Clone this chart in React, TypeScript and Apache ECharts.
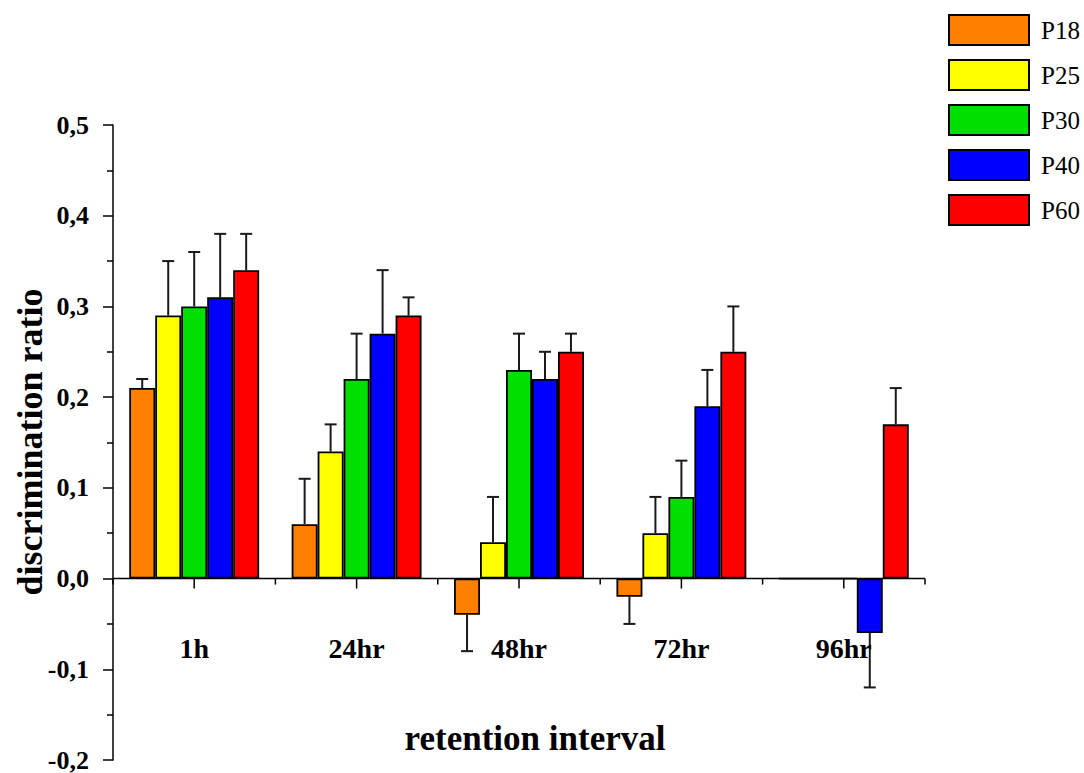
import React, { useEffect, useRef } from "react";
import * as echarts from "echarts";

const categories = ["1h", "24hr", "48hr", "72hr", "96hr"];
const seriesNames = ["P18", "P25", "P30", "P40", "P60"];
const colors = ["#ff8000", "#ffff00", "#00e000", "#0000ff", "#ff0000"];

const p18 = [0.21, 0.06, -0.04, -0.02, 0];
const p25 = [0.29, 0.14, 0.04, 0.05, 0];
const p30 = [0.3, 0.22, 0.23, 0.09, 0];
const p40 = [0.31, 0.27, 0.22, 0.19, -0.06];
const p60 = [0.34, 0.29, 0.25, 0.25, 0.17];

const e18 = [0.01, 0.05, 0.04, 0.03, 0];
const e25 = [0.06, 0.03, 0.05, 0.04, 0];
const e30 = [0.06, 0.05, 0.04, 0.04, 0];
const e40 = [0.07, 0.07, 0.03, 0.04, 0.06];
const e60 = [0.04, 0.02, 0.02, 0.05, 0.04];

const yTicks = { min: -0.2, max: 0.5, interval: 0.1 };

const values = [p18, p25, p30, p40, p60];
const errors = [e18, e25, e30, e40, e60];

const FONT = "'Liberation Serif', 'Times New Roman', serif";

export default function App() {
  const ref = useRef<HTMLDivElement>(null);
  useEffect(() => {
    document.body.style.margin = "0";
    if (!ref.current) return;
    const chart = echarts.init(ref.current, null, { renderer: "svg" });
    const errData: number[][] = [];
    values.forEach((vals, s) => {
      vals.forEach((v, c) => {
        errData.push([c, s, v, errors[s][c]]);
      });
    });
    const barSeries = seriesNames.map((name, i) => ({
      name,
      type: "bar",
      data: values[i],
      barGap: "0%",
      barCategoryGap: "20%",
      itemStyle: { color: colors[i], borderColor: "#000", borderWidth: 1.8 },
      z: 3,
    }));
    const axisStyle = { stroke: "#000", lineWidth: 1.5 };
    chart.setOption({
      animation: false,
      textStyle: { fontFamily: FONT },
      grid: { left: 113, right: 159, top: 125, bottom: 13, containLabel: false, outerBoundsMode: "none" },
      legend: {
        data: seriesNames,
        orient: "vertical",
        left: 948,
        top: 14,
        padding: 0,
        itemWidth: 80,
        itemHeight: 30,
        itemGap: 13,
        icon: "rect",
        textStyle: { fontFamily: FONT, fontSize: 25, color: "#000", padding: [0, 0, 0, 7] },
        selectedMode: false,
      },
      xAxis: {
        type: "category",
        data: categories,
        axisLine: { show: false },
        axisTick: { show: false },
        axisLabel: { show: false },
        splitLine: { show: false },
      },
      yAxis: {
        type: "value",
        min: yTicks.min,
        max: yTicks.max,
        interval: yTicks.interval,
        position: "left",
        axisLine: { show: true, lineStyle: { color: "#000", width: 1.5 } },
        axisTick: { show: true, length: 10, lineStyle: { color: "#000", width: 1.5 } },
        minorTick: { show: true, splitNumber: 2, length: 6, lineStyle: { color: "#000", width: 1.5 } },
        splitLine: { show: false },
        axisLabel: {
          margin: 24,
          fontFamily: FONT,
          fontSize: 26,
          fontWeight: "bold",
          color: "#000",
          formatter: (v: number) => (Math.abs(v) < 1e-9 ? 0 : v).toFixed(1).replace(".", ","),
        },
      },
      graphic: [
        {
          type: "text",
          x: 30,
          y: 442,
          rotation: Math.PI / 2,
          style: {
            text: "discrimination ratio",
            font: `bold 36px ${FONT}`,
            fill: "#000",
            textAlign: "center",
            textVerticalAlign: "middle",
          },
        },
        {
          type: "text",
          x: 535,
          y: 738,
          style: {
            text: "retention interval",
            font: `bold 35px ${FONT}`,
            fill: "#000",
            textAlign: "center",
            textVerticalAlign: "middle",
          },
        },
      ],
      series: [
        ...barSeries,
        {
          type: "custom",
          name: "errors",
          data: errData,
          encode: { x: 0, y: 2 },
          z: 2,
          renderItem: (params: any, api: any) => {
            const cat = api.value(0);
            const s = api.value(1);
            const v = api.value(2);
            const e = api.value(3);
            if (!e) return null;
            const band = api.size([1, 0])[0];
            const bw = band * 0.16;
            const p = api.coord([cat, v]);
            const x = p[0] + (s - 2) * bw;
            const sign = v < 0 ? -1 : 1;
            const end = api.coord([cat, v + sign * e])[1];
            const st = { stroke: "#1a1a1a", lineWidth: 2 };
            return {
              type: "group",
              children: [
                { type: "line", shape: { x1: x, y1: p[1], x2: x, y2: end }, style: st },
                { type: "line", shape: { x1: x - 6, y1: end, x2: x + 6, y2: end }, style: st },
              ],
            };
          },
        },
        {
          type: "custom",
          name: "xaxis",
          data: categories.map((_, i) => [i, 0]),
          encode: { x: 0, y: 1 },
          z: 5,
          silent: true,
          renderItem: (params: any, api: any) => {
            const idx = api.value(0);
            const p = api.coord([idx, 0]);
            const band = api.size([1, 0])[0];
            const left = p[0] - band / 2;
            const right = p[0] + band / 2;
            const children: any[] = [
              { type: "line", shape: { x1: left, y1: p[1], x2: right, y2: p[1] }, style: axisStyle },
              { type: "line", shape: { x1: p[0], y1: p[1], x2: p[0], y2: p[1] + 10 }, style: axisStyle },
              { type: "line", shape: { x1: left, y1: p[1], x2: left, y2: p[1] + 6 }, style: axisStyle },
              {
                type: "text",
                x: p[0],
                y: p[1] + 70,
                style: {
                  text: categories[idx],
                  font: `bold 28px ${FONT}`,
                  fill: "#000",
                  textAlign: "center",
                  textVerticalAlign: "middle",
                },
              },
            ];
            if (idx === categories.length - 1) {
              children.push({ type: "line", shape: { x1: right, y1: p[1], x2: right, y2: p[1] + 6 }, style: axisStyle });
            }
            return { type: "group", children };
          },
        },
      ],
    });
    return () => chart.dispose();
  }, []);
  return <div ref={ref} style={{ width: 1084, height: 773 }} />;
}
